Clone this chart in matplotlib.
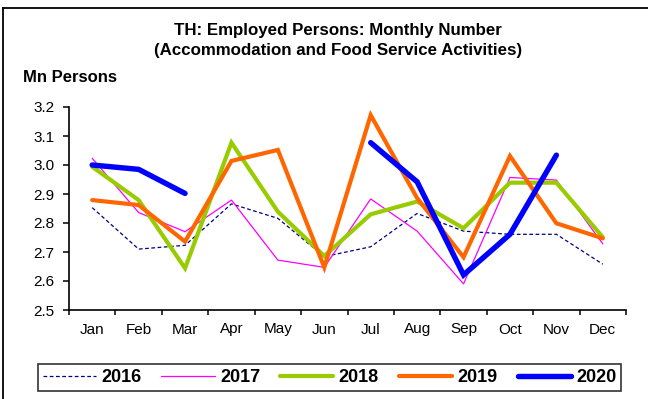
import numpy as np
import matplotlib.pyplot as plt
from matplotlib.lines import Line2D

plt.rcParams['font.family'] = ['Liberation Sans', 'DejaVu Sans']

months = ['Jan', 'Feb', 'Mar', 'Apr', 'May', 'Jun',
          'Jul', 'Aug', 'Sep', 'Oct', 'Nov', 'Dec']
nan = np.nan
y2016 = [2.853, 2.710, 2.723, 2.866, 2.816, 2.684, 2.718, 2.833, 2.772, 2.761, 2.761, 2.658]
y2017 = [3.023, 2.836, 2.770, 2.879, 2.672, 2.647, 2.883, 2.772, 2.590, 2.957, 2.948, 2.728]
y2018 = [2.994, 2.879, 2.644, 3.077, 2.839, 2.686, 2.830, 2.874, 2.782, 2.939, 2.939, 2.751]
y2019 = [2.879, 2.862, 2.736, 3.014, 3.052, 2.647, 3.172, 2.886, 2.682, 3.031, 2.799, 2.747]
y2020 = [3.000, 2.985, 2.902, nan, nan, nan, 3.077, 2.942, 2.621, 2.761, 3.034, nan]

W, H = 648, 399
fig = plt.figure(figsize=(W / 100, H / 100), dpi=100)
ax = fig.add_axes([69 / W, (H - 310) / H, (626 - 69) / W, (310 - 107) / H])

x = np.arange(12)
series = [
    ('2016', y2016, dict(color='#000080', lw=0.9, ls=(0, (3, 2)))),
    ('2017', y2017, dict(color='#FF00FF', lw=0.9)),
    ('2018', y2018, dict(color='#99CC00', lw=3.0)),
    ('2019', y2019, dict(color='#FF6600', lw=3.0)),
    ('2020', y2020, dict(color='#0000FF', lw=3.9)),
]
for name, vals, st in series:
    ax.plot(x, vals, label=name, solid_capstyle='round', solid_joinstyle='miter', **st)

ax.set_xlim(-0.5, 11.5)
ax.set_ylim(2.5, 3.2)
yt = np.arange(2.5, 3.21, 0.1)
ax.set_yticks(yt)
ax.set_yticklabels([f'{v:.1f}' for v in yt], fontsize=11)
ax.set_xticks(np.arange(-0.5, 12, 1))
ax.set_xticklabels([])
ax.set_xticks(x, minor=True)
ax.set_xticklabels(months, minor=True, fontsize=11)
ax.tick_params(axis='x', which='major', length=3.8, width=1.1)
ax.tick_params(axis='x', which='minor', length=0, pad=9)
ax.tick_params(axis='y', length=4.3, width=1.1, pad=6)
for s in ['top', 'right']:
    ax.spines[s].set_visible(False)
for s in ['left', 'bottom']:
    ax.spines[s].set_linewidth(1.2)

fig.text(338 / W, 1 - 35.5 / H, 'TH: Employed Persons: Monthly Number',
         ha='center', va='baseline', fontsize=12.2, fontweight='bold')
fig.text(338 / W, 1 - 55 / H, '(Accommodation and Food Service Activities)',
         ha='center', va='baseline', fontsize=12.2, fontweight='bold')
fig.text(23 / W, 1 - 82.5 / H, 'Mn Persons', ha='left', va='baseline',
         fontsize=12, fontweight='bold')

leg = fig.legend(loc='center', ncol=5, mode='expand',
                 bbox_to_anchor=(38 / W, 1 - 392 / H, (621 - 38) / W, 29 / H),
                 frameon=True, fancybox=False, edgecolor='black',
                 prop={'weight': 'bold', 'size': 13}, handlelength=2.95,
                 borderaxespad=0, borderpad=0.25, columnspacing=1.0,
                 handletextpad=0.3)
leg.get_frame().set_linewidth(1.2)

# outer chart border (left and top edges)
fig.add_artist(Line2D([3 / W, 3 / W], [0, 1 - 7.5 / H], color='black', lw=1.3,
                      transform=fig.transFigure))
fig.add_artist(Line2D([3 / W, 1], [1 - 7.5 / H, 1 - 7.5 / H], color='black', lw=1.3,
                      transform=fig.transFigure))

fig.savefig('out.png', dpi=100)
